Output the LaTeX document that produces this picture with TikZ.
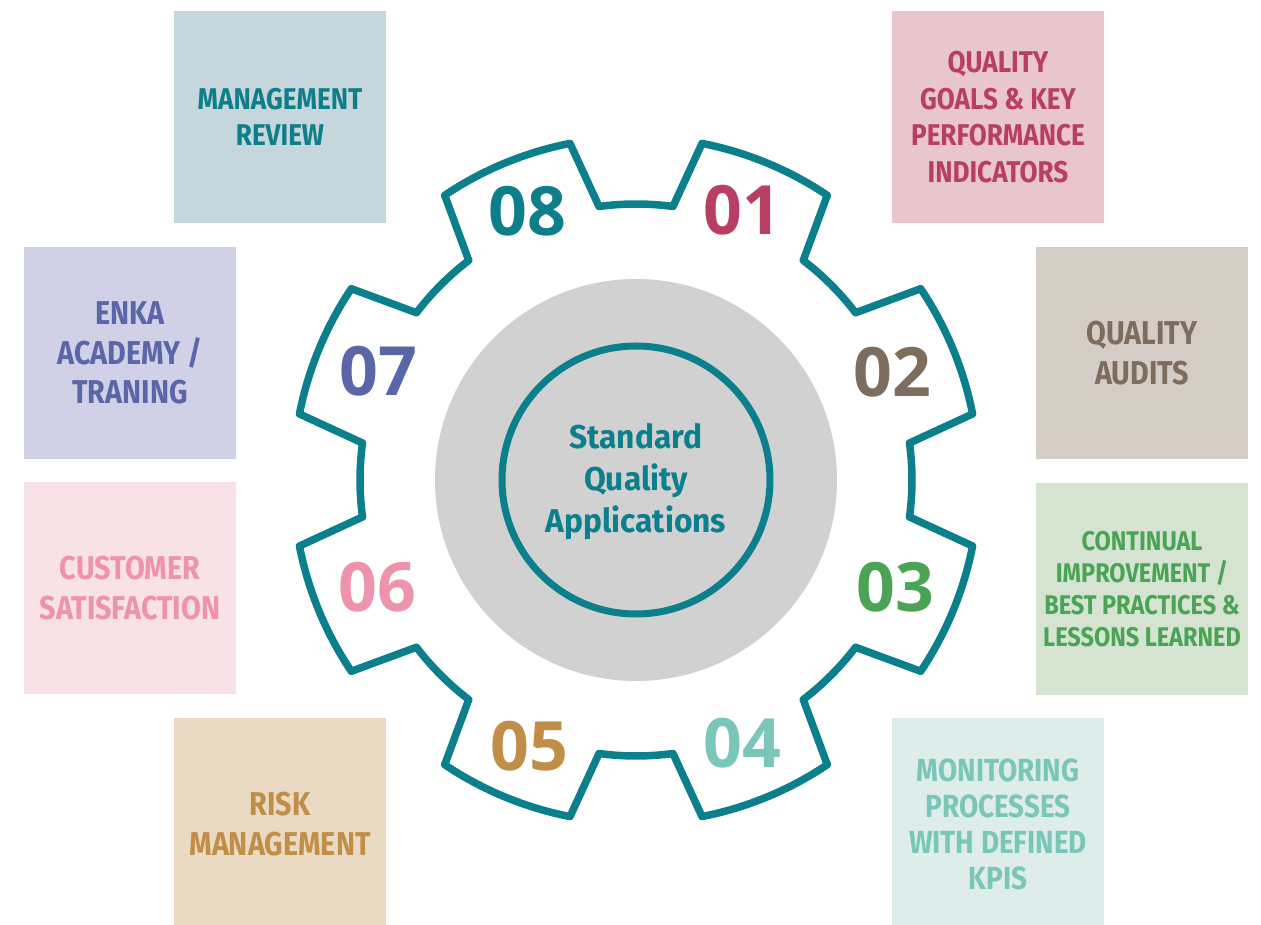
\documentclass[tikz,border=0pt]{standalone}
\usepackage{fontspec}
\newfontfamily\boxfont{Fira Sans}[FakeStretch=0.87]
\newfontfamily\numfont{Open Sans}
\newfontfamily\hubfont{Fira Sans}[FakeStretch=0.96]

% palette
\definecolor{gearteal}{HTML}{0B808C}
\definecolor{hubgray}{HTML}{D1D1D1}
\definecolor{mgmtbg}{HTML}{C5D6DC}   \definecolor{mgmtfg}{HTML}{0E7F8A}
\definecolor{goalbg}{HTML}{E8C6CC}   \definecolor{goalfg}{HTML}{B83F63}
\definecolor{auditbg}{HTML}{D3CDC6}  \definecolor{auditfg}{HTML}{7C6D5E}
\definecolor{contbg}{HTML}{D4E4D0}   \definecolor{contfg}{HTML}{4BA456}
\definecolor{monbg}{HTML}{DEEDEA}    \definecolor{monfg}{HTML}{7AC6B9}
\definecolor{riskbg}{HTML}{EADAC4}   \definecolor{riskfg}{HTML}{C18E47}
\definecolor{custbg}{HTML}{F9E1E8}   \definecolor{custfg}{HTML}{EE93AE}
\definecolor{enkabg}{HTML}{D0D0E6}   \definecolor{enkafg}{HTML}{5A66A8}

\begin{document}
\begin{tikzpicture}[x=1pt,y=1pt,
  card/.style={minimum width=212pt, minimum height=212pt, inner sep=0pt,
    align=center, font=\boxfont\bfseries\fontsize{30}{36.5}\selectfont},
  bigcard/.style={card, font=\boxfont\bfseries\fontsize{33}{39.5}\selectfont},
  moncard/.style={card, font=\boxfont\bfseries\fontsize{32}{36}\selectfont},
  smallcard/.style={card, font=\boxfont\bfseries\fontsize{27}{32}\selectfont},
  num/.style={inner sep=0pt, font=\numfont\bfseries\fontsize{68}{68}\selectfont},
  gear/.style={draw=gearteal, line width=7.5pt, line join=round, fill=white}]
\useasboundingbox (0,0) rectangle (1261,924);

% surrounding cards
\node[card, fill=mgmtbg, text=mgmtfg] (mgmt) at (280,807) {MANAGEMENT\\REVIEW};
\node[card, fill=goalbg, text=goalfg] (goals) at (998,807) {QUALITY\\GOALS \& KEY\\PERFORMANCE\\INDICATORS};
\node[bigcard, fill=auditbg, text=auditfg] (audits) at (1142,571) {QUALITY\\AUDITS};
\node[smallcard, fill=contbg, text=contfg] (cont) at (1142,335) {CONTINUAL\\IMPROVEMENT /\\BEST PRACTICES \&\\LESSONS LEARNED};
\node[moncard, fill=monbg, text=monfg] (mon) at (998,100) {MONITORING\\PROCESSES\\WITH DEFINED\\KPIS};
\node[bigcard, fill=riskbg, text=riskfg] (risk) at (280,100) {RISK\\MANAGEMENT};
\node[bigcard, fill=custbg, text=custfg] (cust) at (130,336) {CUSTOMER\\SATISFACTION};
\node[bigcard, fill=enkabg, text=enkafg] (enka) at (130,571) {ENKA\\ACADEMY /\\TRANING};

% gear outline
\begin{scope}[shift={(636,444)}]
  \draw[gear] (7.7:276)
    \foreach \a in {22.5,67.5,...,337.5} {
      -- (\a-11.4:343) arc[start angle=\a-11.4, end angle=\a+11.4, radius=343]
      -- (\a+14.8:276) arc[start angle=\a+14.8, end angle=\a+30.2, radius=276]
    } -- cycle;
  \fill[hubgray] (0,0) circle[radius=201];
  \draw[gearteal, line width=7pt] (0,0) circle[radius=134];
\end{scope}

\node[align=center, text=gearteal, font=\hubfont\bfseries\fontsize{33}{42}\selectfont] (hub) at (636,442) {Standard\\Quality\\Applications};

% step numbers
\node[num, text=goalfg]  (n01) at (742,714) {01};
\node[num, text=auditfg] (n02) at (892,552) {02};
\node[num, text=contfg]  (n03) at (895,337) {03};
\node[num, text=monfg]   (n04) at (742,181) {04};
\node[num, text=riskfg]  (n05) at (529,178) {05};
\node[num, text=custfg]  (n06) at (377,337) {06};
\node[num, text=enkafg]  (n07) at (378,553) {07};
\node[num, text=mgmtfg]  (n08) at (527,713) {08};
\end{tikzpicture}
\end{document}
